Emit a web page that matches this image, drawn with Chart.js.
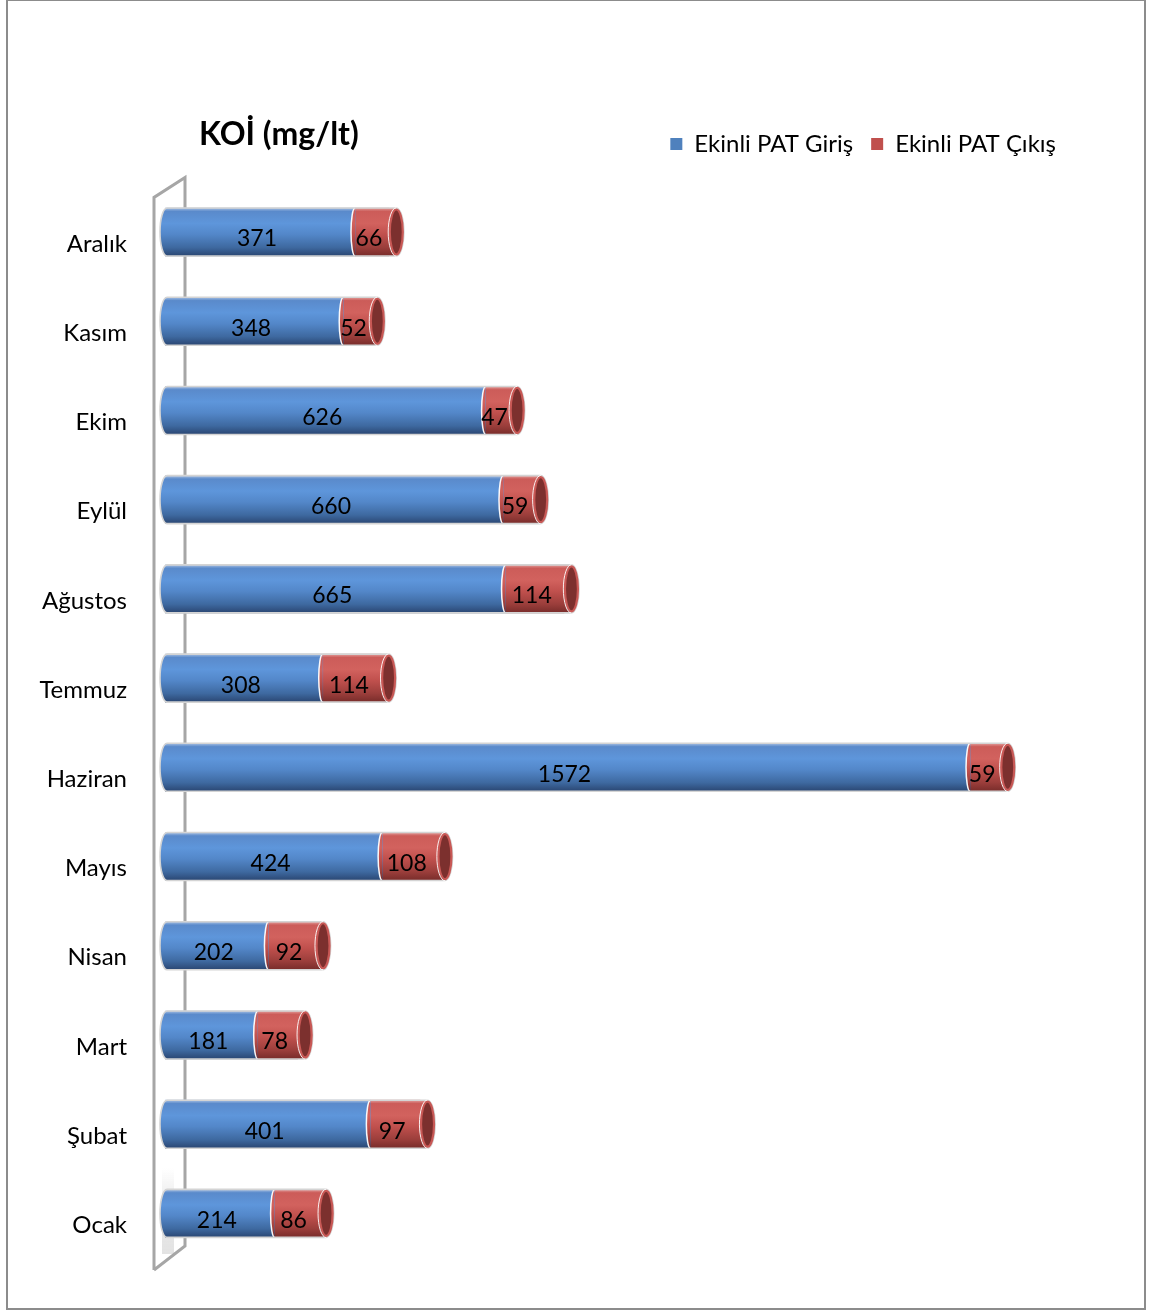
<!DOCTYPE html>
<html>
<head>
<meta charset="utf-8">
<script src="https://cdn.jsdelivr.net/npm/chart.js@4/dist/chart.umd.min.js"></script>
<style>
  html, body { margin: 0; padding: 0; background: #fff; }
  #wrap { position: relative; width: 1150px; height: 1311px; }
  #frame { position: absolute; left: 6px; top: -1px; width: 1140px; height: 1311px; box-sizing: border-box; border: 2px solid #8c8c8c; pointer-events: none; }
</style>
</head>
<body>
<div id="wrap">
  <canvas id="c" width="1150" height="1311"></canvas>
  <div id="frame"></div>
</div>
<script>
// ---- data ----
const categories = ['Aralık', 'Kasım', 'Ekim', 'Eylül', 'Ağustos', 'Temmuz', 'Haziran', 'Mayıs', 'Nisan', 'Mart', 'Şubat', 'Ocak'];
const girisValues = [371, 348, 626, 660, 665, 308, 1572, 424, 202, 181, 401, 214];
const cikisValues = [66, 52, 47, 59, 114, 114, 59, 108, 92, 78, 97, 86];
const seriesNames = ['Ekinli PAT Giriş', 'Ekinli PAT Çıkış'];
const chartTitle = 'KOİ (mg/lt)';

const FONT = 'Lato, "Open Sans", sans-serif';
const BLUE = '#4f81bd';
const RED = '#c0504d';
const blueStops = [[0, '#a8c0e2'], [0.07, '#5a8acb'], [0.32, '#5e96db'], [0.55, '#5387c9'], [0.82, '#3e69a0'], [1, '#2a4672']];
const redStops = [[0, '#e2a09e'], [0.07, '#cc5c59'], [0.32, '#d2625e'], [0.55, '#c0504d'], [0.82, '#9b3e3b'], [1, '#782c2a']];

function grad(ctx, top, bottom, stops) {
  const g = ctx.createLinearGradient(0, top, 0, bottom);
  stops.forEach(s => g.addColorStop(s[0], s[1]));
  return g;
}
function barFill(stops, fallback) {
  return function (c) {
    const chart = c.chart;
    if (!chart.chartArea || !chart.scales.y) return fallback;
    const y = chart.scales.y.getPixelForValue(c.dataIndex);
    return grad(chart.ctx, y - 24, y + 24, stops);
  };
}

const wallPlugin = {
  id: 'wall',
  beforeDatasetsDraw(chart) {
    const ctx = chart.ctx, a = chart.chartArea;
    const fx = a.left - 11, bx = a.left + 20;
    ctx.save();
    // soft shadow near bottom of wall
    const sg = ctx.createLinearGradient(0, a.bottom - 90, 0, a.bottom);
    sg.addColorStop(0, 'rgba(160,160,160,0)');
    sg.addColorStop(0.4, 'rgba(160,160,160,0.22)');
    sg.addColorStop(1, 'rgba(160,160,160,0.3)');
    ctx.fillStyle = sg;
    ctx.fillRect(fx + 8, a.bottom - 90, 12, 86);
    ctx.strokeStyle = '#a6a6a6';
    ctx.lineWidth = 3;
    ctx.lineJoin = 'miter';
    ctx.beginPath();
    ctx.moveTo(fx, a.bottom + 12);
    ctx.lineTo(fx, a.top + 10);
    ctx.lineTo(bx, a.top - 10);
    ctx.lineTo(bx, a.bottom - 12);
    ctx.lineTo(fx, a.bottom + 12);
    ctx.stroke();
    ctx.restore();
  }
};

const cylinderPlugin = {
  id: 'cyl',
  afterDatasetsDraw(chart) {
    const ctx = chart.ctx;
    const m0 = chart.getDatasetMeta(0), m1 = chart.getDatasetMeta(1);
    ctx.save();
    m0.data.forEach((b, i) => {
      const r = m1.data[i];
      const h = b.height, y = b.y, top = y - h / 2, bot = y + h / 2, ry = h / 2;
      const x0 = b.base, xb = b.x, xe = r.x;
      const bg = grad(ctx, top, bot, blueStops), rg = grad(ctx, top, bot, redStops);
      const capR = 7.5, cx = xe + capR;
      // left rounded end of blue
      ctx.fillStyle = bg;
      ctx.beginPath();
      ctx.ellipse(x0 + 2, y, 7, ry, 0, Math.PI / 2, Math.PI * 1.5);
      ctx.closePath();
      ctx.fill();
      // red bulge into blue at boundary
      ctx.fillStyle = rg;
      ctx.beginPath();
      ctx.ellipse(xb, y, 4, ry, 0, Math.PI / 2, Math.PI * 1.5);
      ctx.closePath();
      ctx.fill();
      ctx.strokeStyle = 'rgba(255,255,255,0.95)';
      ctx.lineWidth = 1.5;
      ctx.beginPath();
      ctx.ellipse(xb, y, 4, ry, 0, Math.PI / 2, Math.PI * 1.5);
      ctx.stroke();
      // red body extension to cap centre
      ctx.fillStyle = rg;
      ctx.fillRect(xe - 0.5, top, capR + 0.5, h);
      // outline
      ctx.strokeStyle = '#d4d4d4';
      ctx.lineWidth = 1.6;
      ctx.beginPath();
      ctx.moveTo(x0 + 2, top);
      ctx.lineTo(cx, top);
      ctx.ellipse(cx, y, capR, ry, 0, -Math.PI / 2, Math.PI / 2);
      ctx.lineTo(x0 + 2, bot);
      ctx.ellipse(x0 + 2, y, 7, ry, 0, Math.PI / 2, Math.PI * 1.5);
      ctx.stroke();
      // cap face
      ctx.fillStyle = '#7c302e';
      ctx.beginPath();
      ctx.ellipse(cx, y, capR - 1, ry - 1.5, 0, 0, Math.PI * 2);
      ctx.fill();
      ctx.strokeStyle = '#c85855';
      ctx.lineWidth = 2.2;
      ctx.stroke();
      ctx.strokeStyle = 'rgba(255,255,255,0.9)';
      ctx.lineWidth = 1;
      ctx.beginPath();
      ctx.ellipse(cx, y, capR + 0.6, ry + 0.2, 0, Math.PI / 2, Math.PI * 1.5);
      ctx.stroke();
      // value labels
      ctx.fillStyle = '#000';
      ctx.font = '23px ' + FONT;
      ctx.textAlign = 'center';
      ctx.textBaseline = 'middle';
      ctx.fillText(String(girisValues[i]), (x0 + xb) / 2 - 3, y + 7);
      ctx.fillText(String(cikisValues[i]), (xb + xe) / 2 - 3, y + 7);
    });
    ctx.restore();
  }
};

const titlePlugin = {
  id: 'ttl',
  afterDraw(chart) {
    const ctx = chart.ctx;
    ctx.save();
    ctx.fillStyle = '#000';
    ctx.font = 'bold 32px ' + FONT;
    ctx.textAlign = 'left';
    ctx.textBaseline = 'middle';
    ctx.fillText(chartTitle, 199, 135);
    ctx.restore();
  }
};

new Chart(document.getElementById('c'), {
  type: 'bar',
  data: {
    labels: categories,
    datasets: [
      { label: seriesNames[0], data: girisValues, backgroundColor: barFill(blueStops, BLUE), borderWidth: 0, barThickness: 48 },
      { label: seriesNames[1], data: cikisValues, backgroundColor: barFill(redStops, RED), borderWidth: 0, barThickness: 48 }
    ]
  },
  options: {
    indexAxis: 'y',
    responsive: false,
    animation: false,
    layout: { padding: { left: 0, right: 76, top: 114, bottom: 53 } },
    scales: {
      x: {
        position: 'top', stacked: true, min: 0, max: 1775,
        ticks: { display: false }, grid: { display: false, drawTicks: false }, border: { display: false },
        afterFit(s) { s.height = 21.4; }
      },
      y: {
        stacked: true,
        grid: { display: false, drawTicks: false }, border: { display: false },
        ticks: { color: '#000', font: { family: FONT, size: 24 }, padding: 38, labelOffset: 12 },
        afterFit(s) { s.width = 165; }
      }
    },
    plugins: {
      title: { display: false },
      tooltip: { enabled: false },
      legend: {
        position: 'top', align: 'end',
        labels: {
          color: '#000', font: { family: FONT, size: 24 }, boxWidth: 12, boxHeight: 12, padding: 18,
          generateLabels(chart) {
            return [BLUE, RED].map((c, i) => ({ text: seriesNames[i], fillStyle: c, strokeStyle: c, lineWidth: 0, datasetIndex: i, hidden: false }));
          }
        }
      }
    }
  },
  plugins: [wallPlugin, cylinderPlugin, titlePlugin]
});
</script>
</body>
</html>
